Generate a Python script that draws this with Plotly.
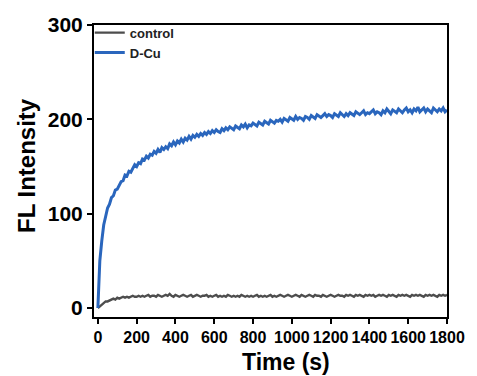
import plotly.graph_objects as go

# Time axis (s), sampled every 10 s
time_s = list(range(0, 1801, 10))

# D-Cu fluorescence intensity
dcu = [
    0, 50, 71, 88, 97, 106, 110, 117, 119, 125,
    126, 131, 134, 135, 141, 140, 145, 144, 149, 152,
    150, 154, 153, 158, 157, 161, 159, 163, 162, 166,
    164, 168, 165, 170, 168, 171, 169, 174, 172, 176,
    173, 177, 175, 179, 176, 180, 178, 182, 179, 183,
    181, 184, 182, 185, 183, 186, 184, 187, 185, 188,
    186, 189, 187, 186, 190, 188, 191, 189, 192, 190,
    189, 193, 191, 190, 194, 192, 195, 191, 194, 193,
    196, 194, 193, 197, 195, 194, 198, 196, 195, 199,
    197, 196, 199, 198, 200, 197, 201, 199, 198, 202,
    200, 199, 203, 200, 202, 201, 199, 203, 202, 200,
    204, 202, 201, 205, 203, 202, 204, 206, 203, 205,
    204, 202, 206, 204, 203, 207, 205, 203, 206, 204,
    207, 205, 204, 208, 206, 205, 207, 209, 205, 207,
    206, 208, 210, 206, 208, 207, 205, 209, 207, 211,
    208, 206, 210, 208, 207, 211, 209, 207, 210, 212,
    208, 210, 207, 211, 209, 213, 208, 210, 212, 208,
    211, 209, 207, 212, 210, 208, 211, 209, 212, 208,
    210,
]

# control fluorescence intensity
control = [
    0, 2, 4, 5, 7, 7, 8, 9, 10, 9,
    11, 10, 11, 12, 11, 12, 11, 12, 13, 12,
    12, 13, 12, 13, 12, 13, 14, 12, 13, 13,
    12, 14, 13, 12, 13, 14, 13, 15, 13, 12,
    14, 13, 12, 13, 14, 13, 12, 13, 14, 12,
    13, 14, 13, 12, 13, 13, 14, 12, 13, 12,
    13, 14, 12, 13, 12, 13, 12, 14, 13, 12,
    13, 12, 13, 12, 14, 13, 12, 13, 12, 13,
    12, 13, 14, 12, 13, 12, 13, 12, 13, 14,
    12, 13, 12, 13, 14, 13, 12, 13, 14, 13,
    12, 13, 14, 13, 12, 14, 13, 12, 13, 14,
    13, 12, 14, 13, 13, 12, 14, 13, 12, 13,
    14, 13, 12, 13, 14, 13, 13, 12, 14, 13,
    14, 13, 12, 14, 13, 14, 13, 12, 14, 13,
    14, 13, 14, 12, 13, 14, 13, 14, 13, 12,
    14, 13, 14, 13, 12, 14, 13, 14, 13, 14,
    13, 12, 14, 13, 14, 13, 14, 13, 12, 14,
    13, 14, 13, 14, 13, 12, 14, 13, 14, 13,
    14,
]

series_names = ["control", "D-Cu"]
series_colors = ["#4d4d4d", "#2a66bd"]
x_ticks = [0, 200, 400, 600, 800, 1000, 1200, 1400, 1600, 1800]
y_ticks = [0, 100, 200, 300]

fig = go.Figure()
fig.add_trace(go.Scatter(x=time_s, y=control, mode="lines", name=series_names[0],
                         line=dict(color=series_colors[0], width=2.4)))
fig.add_trace(go.Scatter(x=time_s, y=dcu, mode="lines", name=series_names[1],
                         line=dict(color=series_colors[1], width=3)))

font_family = "Liberation Sans, Arial, sans-serif"

fig.update_layout(
    width=477, height=376,
    margin=dict(l=94, r=20, t=25, b=59),
    paper_bgcolor="white", plot_bgcolor="white",
    showlegend=True,
    legend=dict(x=-0.012, y=1.025, xanchor="left", yanchor="top",
                bgcolor="rgba(0,0,0,0)", borderwidth=0,
                font=dict(family=font_family, size=13, color="#222", weight="bold"),
                tracegroupgap=0, itemwidth=30),
    annotations=[
        dict(text="Time (s)", xref="paper", yref="paper", x=0.543, y=-0.155,
             xanchor="center", yanchor="middle", showarrow=False,
             font=dict(family=font_family, size=23, color="black", weight="bold")),
        dict(text="FL Intensity", xref="paper", yref="paper", x=-0.193, y=0.52,
             xanchor="center", yanchor="middle", showarrow=False, textangle=-90,
             font=dict(family=font_family, size=24, color="black", weight="bold")),
    ],
)

fig.update_xaxes(
    range=[-20, 1800], tickvals=x_ticks, ticktext=[str(v) for v in x_ticks],
    showline=True, linecolor="black", linewidth=2, mirror=True,
    ticks="outside", ticklen=5, tickwidth=2, tickcolor="black",
    showgrid=False, zeroline=False,
    tickfont=dict(family=font_family, size=16, color="black", weight="bold"),
)
fig.update_yaxes(
    range=[-9.5, 300], tickvals=y_ticks, ticktext=[str(v) for v in y_ticks],
    showline=True, linecolor="black", linewidth=2, mirror=True,
    ticks="outside", ticklen=5, tickwidth=2, tickcolor="black",
    showgrid=False, zeroline=False,
    tickfont=dict(family=font_family, size=21, color="black", weight="bold"),
)

fig.write_html("out.html")
